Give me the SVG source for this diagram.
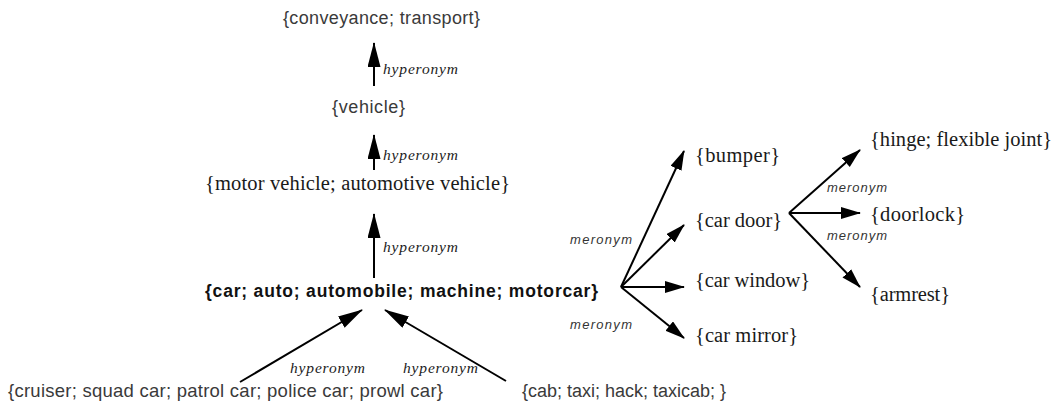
<svg xmlns="http://www.w3.org/2000/svg" width="1055" height="410" viewBox="0 0 1055 410">
<defs>
<style>
.sans{font-family:"Liberation Sans",Arial,sans-serif;fill:#3a3a3a;font-size:18px}
.bold{font-family:"Liberation Sans",Arial,sans-serif;fill:#111;font-size:17.5px;font-weight:bold}
.serif{font-family:"Liberation Serif","Times New Roman",serif;fill:#1a1a1a;font-size:20.5px}
.hyp{font-family:"Liberation Serif","Times New Roman",serif;font-style:italic;fill:#222;font-size:15.5px}
.mer{font-family:"Liberation Sans",Arial,sans-serif;font-style:italic;fill:#333;font-size:13px}
.edge{stroke:#000;stroke-width:2;fill:none}
</style>
<marker id="big" markerUnits="userSpaceOnUse" markerWidth="26" markerHeight="14" refX="24" refY="6.5" orient="auto"><path d="M0,0 L25,6.5 L0,13 Z" fill="#000"/></marker>
<marker id="small" markerUnits="userSpaceOnUse" markerWidth="22" markerHeight="13" refX="19" refY="6" orient="auto"><path d="M0,0 L20,6 L0,12 Z" fill="#000"/></marker>
</defs>
<rect width="1055" height="410" fill="#fff"/>
<g id="connectors">
<line class="edge" x1="374" y1="86" x2="374" y2="43" marker-end="url(#big)"/>
<line class="edge" x1="374" y1="170" x2="374" y2="135" marker-end="url(#big)"/>
<line class="edge" x1="374" y1="278" x2="374" y2="214" marker-end="url(#big)"/>
<line class="edge" x1="240" y1="382" x2="362" y2="310" marker-end="url(#big)"/>
<line class="edge" x1="506" y1="381" x2="385" y2="310" marker-end="url(#big)"/>
<line class="edge" x1="621" y1="287" x2="684" y2="151" marker-end="url(#small)"/>
<line class="edge" x1="621" y1="287" x2="684" y2="225" marker-end="url(#small)"/>
<line class="edge" x1="621" y1="287" x2="684" y2="287" marker-end="url(#small)"/>
<line class="edge" x1="621" y1="287" x2="684" y2="338" marker-end="url(#small)"/>
<line class="edge" x1="789" y1="213" x2="860" y2="150" marker-end="url(#small)"/>
<line class="edge" x1="789" y1="213" x2="860" y2="213" marker-end="url(#small)"/>
<line class="edge" x1="789" y1="213" x2="860" y2="287" marker-end="url(#small)"/>
<text class="hyp" x="383" y="74" textLength="75">hyperonym</text>
<text class="hyp" x="383" y="160" textLength="75">hyperonym</text>
<text class="hyp" x="383" y="252" textLength="75">hyperonym</text>
<text class="hyp" x="290" y="373" textLength="75">hyperonym</text>
<text class="hyp" x="403" y="373" textLength="75">hyperonym</text>
<text class="mer" x="570" y="244" textLength="62">meronym</text>
<text class="mer" x="570" y="329" textLength="62">meronym</text>
<text class="mer" x="827" y="192" textLength="60">meronym</text>
<text class="mer" x="827" y="240" textLength="60">meronym</text>
</g>
<g id="conveyance"><text class="sans" x="283" y="24" textLength="197">{conveyance; transport}</text></g>
<g id="vehicle"><text class="sans" x="332" y="113" textLength="73">{vehicle}</text></g>
<g id="motor-vehicle"><text class="serif" x="205" y="190" textLength="305">{motor vehicle; automotive vehicle}</text></g>
<g id="car"><text class="bold" x="205" y="297" textLength="393">{car; auto; automobile; machine; motorcar}</text></g>
<g id="cruiser"><text class="sans" x="8" y="397" textLength="435" style="font-size:18.5px">{cruiser; squad car; patrol car; police car; prowl car}</text></g>
<g id="cab"><text class="sans" x="522" y="397">{cab; taxi; hack; taxicab; }</text></g>
<g id="bumper"><text class="serif" x="695" y="162" textLength="85">{bumper}</text></g>
<g id="car-door"><text class="serif" x="695" y="227" textLength="87">{car door}</text></g>
<g id="car-window"><text class="serif" x="695" y="287" textLength="115">{car window}</text></g>
<g id="car-mirror"><text class="serif" x="695" y="342" textLength="103">{car mirror}</text></g>
<g id="hinge"><text class="serif" x="870" y="146" textLength="182">{hinge; flexible joint}</text></g>
<g id="doorlock"><text class="serif" x="870" y="221" textLength="95">{doorlock}</text></g>
<g id="armrest"><text class="serif" x="870" y="301" textLength="80">{armrest}</text></g>
</svg>
